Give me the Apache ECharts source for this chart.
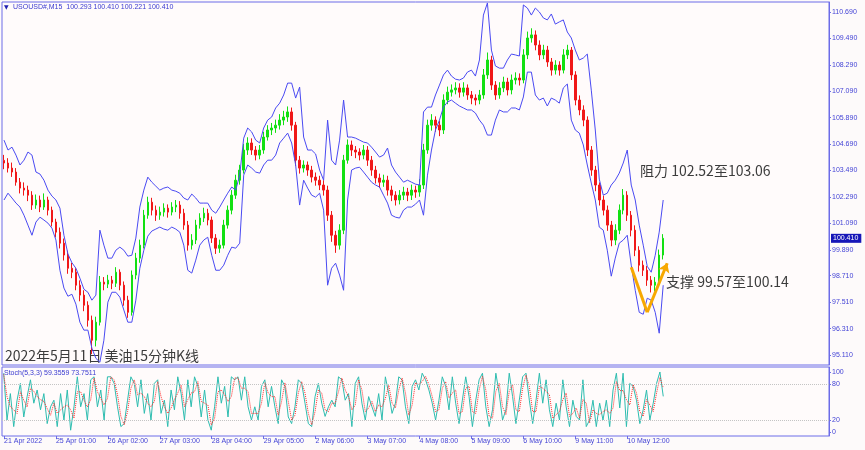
<!DOCTYPE html>
<html><head><meta charset="utf-8">
<script src="https://cdn.jsdelivr.net/npm/echarts@6/dist/echarts.min.js"></script>
<style>html,body{margin:0;padding:0;background:#fdfafa}#c{width:865px;height:450px}</style>
</head><body><div id="c"></div>
<script>
// [open, close, low, high] for each aggregated bar
const candles = [
[103.95,103.83,103.55,104.20],[103.83,103.60,103.40,104.05],[103.60,103.42,103.20,103.85],[103.42,102.96,102.80,103.60],[102.96,102.69,102.45,103.15],
[102.69,102.60,102.35,102.95],[102.60,102.37,102.10,102.80],[102.37,101.92,101.70,102.55],[101.92,102.15,101.75,102.40],[102.15,101.83,101.60,102.35],
[101.83,102.15,101.70,102.45],[102.15,101.69,101.45,102.30],[101.69,101.15,100.95,101.85],[101.15,100.69,100.45,101.30],[100.69,100.19,99.95,100.90],
[100.19,99.65,99.40,100.40],[99.65,99.05,98.80,99.85],[99.05,98.87,98.60,99.30],[98.87,98.28,98.05,99.05],[98.28,97.83,97.55,98.50],
[97.83,97.37,97.10,98.05],[97.37,96.69,96.40,97.55],[96.69,95.78,95.15,96.90],[95.78,96.60,95.50,96.85],[96.60,98.42,96.45,98.70],
[98.42,98.33,98.05,98.65],[98.33,98.51,98.15,98.75],[98.51,98.37,98.10,98.70],[98.37,98.87,98.20,99.10],[98.87,98.28,98.05,99.00],
[98.28,97.60,97.35,98.45],[97.60,97.05,96.80,97.80],[97.05,98.74,96.90,98.95],[98.74,99.51,98.55,99.75],[99.51,100.10,99.30,100.35],
[100.10,101.46,99.95,101.70],[101.46,102.05,101.30,102.30],[102.05,101.69,101.45,102.25],[101.69,101.46,101.20,101.90],[101.46,101.60,101.25,101.85],
[101.60,101.78,101.40,102.00],[101.78,101.60,101.35,101.95],[101.60,101.83,101.45,102.05],[101.83,101.92,101.60,102.15],[101.92,101.55,101.30,102.10],
[101.55,101.01,100.80,101.75],[101.01,100.10,99.85,101.20],[100.10,100.33,99.90,100.60],[100.33,101.01,100.15,101.25],[101.01,101.33,100.85,101.55],
[101.33,101.55,101.15,101.80],[101.55,101.24,101.00,101.75],[101.24,100.42,100.20,101.40],[100.42,99.96,99.70,100.60],[99.96,100.10,99.75,100.35],
[100.10,101.01,99.95,101.25],[101.01,101.69,100.85,101.90],[101.69,102.37,101.50,102.60],[102.37,103.05,102.20,103.30],[103.05,103.51,102.85,103.75],
[103.51,104.42,103.35,104.70],[104.42,104.74,104.20,105.00],[104.74,104.42,104.20,104.95],[104.42,104.19,103.95,104.60],[104.19,104.42,104.00,104.65],
[104.42,105.01,104.25,105.25],[105.01,105.33,104.85,105.55],[105.33,105.42,105.10,105.65],[105.42,105.55,105.20,105.80],[105.55,105.78,105.35,106.05],
[105.78,105.92,105.55,106.20],[105.92,106.15,105.70,106.40],[106.15,105.55,105.30,106.35],[105.55,103.96,103.70,105.70],[103.96,103.60,103.35,104.15],
[103.60,103.74,103.40,103.95],[103.74,103.51,103.25,103.90],[103.51,103.19,102.95,103.70],[103.19,103.05,102.80,103.40],[103.05,102.83,102.60,103.25],
[102.83,102.60,102.35,103.05],[102.60,101.46,101.20,102.80],[101.46,100.55,100.25,101.65],[100.55,100.10,99.75,100.75],[100.10,100.78,99.90,101.05],
[100.78,103.96,100.60,104.20],[103.96,104.65,103.80,104.90],[104.65,104.42,104.15,104.85],[104.42,104.33,104.05,104.60],[104.33,104.19,103.95,104.50],
[104.19,104.42,104.00,104.65],[104.42,103.96,103.70,104.60],[103.96,103.51,103.25,104.15],[103.51,103.15,102.90,103.70],[103.15,102.96,102.70,103.35],
[102.96,103.05,102.75,103.30],[103.05,102.60,102.35,103.25],[102.60,102.37,102.10,102.80],[102.37,102.15,101.90,102.55],[102.15,102.37,101.95,102.60],
[102.37,102.51,102.15,102.75],[102.51,102.37,102.10,102.70],[102.37,102.60,102.15,102.85],[102.60,102.51,102.25,102.80],[102.51,102.83,102.30,103.10],
[102.83,104.42,102.65,104.70],[104.42,105.55,104.25,105.80],[105.55,105.78,105.30,106.05],[105.78,105.55,105.25,105.95],[105.55,105.33,105.05,105.75],
[105.33,106.69,105.15,106.95],[106.69,107.05,106.50,107.30],[107.05,107.15,106.85,107.40],[107.15,107.24,106.95,107.50],[107.24,107.05,106.80,107.45],
[107.05,107.24,106.85,107.50],[107.24,106.92,106.70,107.40],[106.92,106.78,106.50,107.10],[106.78,106.69,106.45,106.95],[106.69,106.92,106.50,107.15],
[106.92,107.83,106.75,108.10],[107.83,108.51,107.65,108.85],[108.51,107.37,107.15,108.70],[107.37,106.92,106.70,107.55],[106.92,107.24,106.75,107.50],
[107.24,107.51,107.05,107.75],[107.51,107.15,106.90,107.70],[107.15,107.60,106.95,107.85],[107.60,107.69,107.40,107.95],[107.69,107.60,107.35,107.90],
[107.60,108.74,107.45,109.00],[108.74,109.51,108.55,109.80],[109.51,109.65,109.30,109.95],[109.65,109.19,108.95,109.85],[109.19,108.74,108.50,109.40],
[108.74,108.96,108.55,109.20],[108.96,108.42,108.20,109.15],[108.42,108.05,107.80,108.60],[108.05,108.28,107.85,108.50],[108.28,108.05,107.80,108.45],
[108.05,108.74,107.90,109.00],[108.74,108.96,108.55,109.20],[108.96,107.83,107.60,109.10],[107.83,106.69,106.45,108.00],[106.69,106.24,106.00,106.90],
[106.24,105.78,105.50,106.45],[105.78,104.42,104.15,105.95],[104.42,103.51,103.25,104.60],[103.51,102.83,102.55,103.70],[102.83,102.15,101.90,102.95],
[102.15,101.69,101.45,102.35],[101.69,101.01,100.75,101.90],[101.01,100.33,100.05,101.20],[100.33,100.78,100.10,101.05],[100.78,101.69,100.60,101.95],
[101.69,102.37,101.50,102.65],[102.37,101.46,101.20,102.55],[101.46,100.78,100.50,101.65],[100.78,99.87,99.60,101.00],[99.87,99.19,98.90,100.05],
[99.19,98.96,98.70,99.40],[98.96,98.51,98.25,99.15],[98.51,98.28,97.95,98.70],[98.28,98.42,98.00,98.65],[98.42,99.65,98.25,99.90],
[99.65,100.41,99.45,100.60]
];
const upperBand = [
104.87,104.42,104.55,104.19,103.74,103.96,104.33,104.19,103.42,103.33,
103.05,102.60,102.33,102.15,101.78,100.55,99.70,99.30,99.05,98.60,
98.10,97.96,97.60,97.83,100.78,100.10,99.51,99.51,99.87,100.01,
99.87,99.60,99.64,100.42,101.83,102.60,103.19,102.96,102.78,102.60,
102.69,102.74,102.60,102.55,102.46,102.24,102.15,102.42,102.24,102.01,
102.01,102.01,101.69,101.55,101.83,102.15,102.46,102.74,102.60,103.28,
104.96,105.42,105.24,104.87,104.74,105.42,105.78,105.92,106.33,106.55,
106.92,107.46,107.46,106.78,107.28,105.01,104.42,104.42,104.24,103.51,
103.05,105.78,103.96,103.74,104.87,106.69,105.01,105.01,104.96,104.87,
104.78,104.74,104.55,104.33,104.10,104.19,104.51,103.74,103.42,103.19,
102.96,103.05,102.96,102.87,102.83,106.15,106.37,106.37,106.92,107.37,
107.83,108.05,107.78,107.64,107.60,107.69,107.96,108.05,107.78,108.51,
110.55,111.10,108.96,108.24,108.14,108.14,108.51,108.78,108.74,108.69,
111.01,110.87,110.55,110.87,110.69,110.42,110.33,110.60,110.14,110.24,
110.33,109.78,109.51,108.96,108.51,108.60,108.78,107.14,105.33,103.10,
102.37,102.46,102.83,103.05,103.37,103.83,104.42,102.83,102.15,101.01,
100.10,99.14,98.87,99.64,100.69,102.15
];
const lowerBand = [
102.15,102.46,102.24,102.01,101.83,101.46,101.01,100.55,101.15,101.37,
101.24,101.10,100.87,100.33,98.96,98.15,97.78,97.87,97.42,96.60,
96.24,96.24,95.42,94.96,94.78,95.78,97.51,97.96,97.96,97.74,
97.15,96.60,96.60,97.60,99.05,99.87,100.51,100.74,100.83,100.92,
100.83,100.78,100.92,100.83,100.69,100.10,98.96,98.83,99.42,100.10,
100.33,100.46,99.64,98.96,98.96,99.19,99.64,100.01,99.96,100.19,
103.28,103.74,103.60,103.42,103.37,103.74,103.96,103.96,104.19,104.74,
104.96,105.19,104.74,103.74,101.92,103.05,102.69,102.37,102.28,102.46,
101.69,98.28,99.05,99.28,98.74,98.05,102.15,103.51,103.60,103.64,
103.42,103.19,102.96,102.83,102.74,102.37,102.01,101.46,101.37,101.33,
101.69,101.83,101.83,101.96,102.15,101.46,103.28,104.42,105.33,105.78,
106.37,106.60,106.69,106.55,106.42,106.33,106.24,106.24,106.10,105.78,
105.55,105.10,105.10,105.78,106.24,106.15,106.15,106.33,106.33,106.24,
106.83,107.96,107.96,106.92,106.69,106.78,106.42,106.78,106.69,106.55,
107.24,107.42,105.78,105.33,105.19,104.65,103.74,102.92,102.15,100.92,
100.78,99.87,98.69,99.51,100.19,100.33,100.55,99.19,98.05,97.05,
96.96,97.69,97.60,97.05,96.10,98.28
];
const stochK = [
98,20,64,9,53,81,25,59,87,48,70,37,64,14,42,53,9,64,20,70,3,42,92,42,64,20,87,92,42,70,20,92,92,81,42,9,14,53,92,81,42,87,31,64,20,81,87,31,53,9,70,37,92,64,20,87,42,92,76,25,70,20,3,42,92,48,76,25,92,87,92,53,92,42,20,42,20,76,87,42,76,42,14,87,76,25,14,42,
87,81,48,14,9,59,81,48,26,42,53,42,92,87,53,64,9,81,92,48,20,59,42,26,64,20,92,64,31,48,92,87,42,14,76,87,70,98,87,70,48,20,53,92,76,37,92,48,14,53,92,59,9,53,87,98,42,9,37,98,64,20,37,98,59,14,53,92,98,53,14,53,98,48,87,37,9,48,20,87,42,9,53,26,20,87,9,20,53,9,
48,20,53,9,70,98,40,98,9,81,76,53,14,37,70,20,48,81,100,59.36
];
const stochD = [
96,59,42,37,31,67,53,42,73,68,59,54,51,39,28,48,31,37,42,45,37,23,67,67,53,42,54,90,67,56,45,56,92,87,62,26,12,34,73,87,62,65,59,48,42,51,84,59,42,31,40,54,65,78,42,54,65,67,84,51,48,45,12,23,67,70,62,51,59,90,90,73,73,67,31,31,31,48,82,65,59,59,28,51,82,51,20,28,
65,84,65,31,12,34,70,65,37,34,48,48,67,90,70,59,37,45,87,70,34,40,51,34,45,42,56,78,48,40,70,90,65,28,45,82,79,84,93,79,59,34,37,73,84,57,65,70,31,34,73,76,34,31,70,93,70,26,23,68,81,42,29,68,79,37,34,73,95,76,34,34,76,73,68,62,23,29,34,54,65,26,31,40,23,54,48,15,37,31,
29,34,37,31,40,84,69,69,54,45,79,65,34,26,54,45,34,65,91,73.75
];
const priceTicks = [95.11,96.31,97.51,98.71,99.89,101.09,102.29,103.49,104.69,105.89,107.09,108.29,109.49,110.69];
const stochTicks = [0,20,80,100];
const stochLevels = [20,80];
const dateLabels = ['21 Apr 2022','25 Apr 01:00','26 Apr 02:00','27 Apr 03:00','28 Apr 04:00','29 Apr 05:00','2 May 06:00','3 May 07:00','4 May 08:00','5 May 09:00','6 May 10:00','9 May 11:00','10 May 12:00'];
const lastPrice = 100.41;
const vShapeIdx = [157,161,166];
const vShapePrice = [99.10,97.05,99.28];
const headerText = 'USOUSD#,M15  100.293 100.410 100.221 100.410';
const stochText = 'Stoch(5,3,3) 59.3559 73.7511';

const barSlots = 207, stochSlots = 247, labelEvery = 13;
const isLabelSlot = (i) => i % labelEvery === 0 && (i / labelEvery) < dateLabels.length;
const slotCats = Array.from({length: barSlots}, (_, i) => isLabelSlot(i) ? dateLabels[i / labelEvery] : '');
const stochCats = Array.from({length: stochSlots}, (_, i) => String(i));

const blue = '#4444d6', frame = '#6c6ce8', font = 'Liberation Sans';
const chart = echarts.init(document.getElementById('c'), null, {renderer: 'canvas'});
chart.setOption({
  animation: false,
  backgroundColor: '#fdfafa',
  grid: [
    {left: 2, right: 36, top: 2, bottom: 85, show: true, borderColor: frame, borderWidth: 1, backgroundColor: '#fffbfb'},
    {left: 2, right: 36, top: 367, bottom: 14, show: true, borderColor: frame, borderWidth: 1, backgroundColor: '#fffbfb'}
  ],
  xAxis: [
    {type: 'category', gridIndex: 0, data: slotCats.map((_, i) => String(i)), boundaryGap: true, show: false},
    {type: 'category', gridIndex: 1, data: stochCats, boundaryGap: true, show: false, position: 'top'},
    {type: 'category', gridIndex: 1, data: slotCats, boundaryGap: true, position: 'bottom',
      axisLine: {show: false},
      axisTick: {show: true, length: 3, alignWithLabel: true, interval: (i) => isLabelSlot(i), lineStyle: {color: frame}},
      axisLabel: {interval: (i) => isLabelSlot(i), align: 'left', margin: 2, color: blue, fontSize: 7, fontFamily: font},
      splitLine: {show: false}}
  ],
  yAxis: [
    {type: 'value', gridIndex: 0, position: 'right', min: 94.656, max: 111.144, scale: true,
      axisLine: {show: true, lineStyle: {color: frame}},
      axisTick: {show: true, length: 2, customValues: priceTicks, lineStyle: {color: frame}},
      axisLabel: {customValues: priceTicks, formatter: (v) => v.toFixed(3), color: blue, fontSize: 7, fontFamily: font, margin: 3},
      splitLine: {show: false}},
    {type: 'value', gridIndex: 1, position: 'right', min: -6.667, max: 108.333,
      axisLine: {show: true, lineStyle: {color: frame}},
      axisTick: {show: true, length: 2, customValues: stochTicks, lineStyle: {color: frame}},
      axisLabel: {customValues: stochTicks, color: blue, fontSize: 7, fontFamily: font, margin: 3},
      splitLine: {show: false}}
  ],
  series: [
    {type: 'candlestick', xAxisIndex: 0, yAxisIndex: 0, data: candles, barWidth: 2, z: 2,
      itemStyle: {color: '#12e012', color0: '#f01818', borderColor: '#12e012', borderColor0: '#f01818', borderWidth: 1}},
    {type: 'line', xAxisIndex: 0, yAxisIndex: 0, data: upperBand, symbol: 'none', z: 3,
      lineStyle: {color: '#4a4af2', width: 1}},
    {type: 'line', xAxisIndex: 0, yAxisIndex: 0, data: lowerBand, symbol: 'none', z: 3,
      lineStyle: {color: '#4a4af2', width: 1}},
    {type: 'line', xAxisIndex: 0, yAxisIndex: 0, data: [], symbol: 'none', z: 6,
      markLine: {silent: true, symbol: ['none', 'none'], data: [{yAxis: lastPrice}],
        lineStyle: {color: 'rgba(0,0,0,0)', width: 0},
        label: {show: true, position: 'end', distance: 2, formatter: () => lastPrice.toFixed(3), color: '#ffffff',
          backgroundColor: '#1616b8', padding: [1, 3, 1, 2], fontSize: 7, fontFamily: font}}},
    {type: 'line', xAxisIndex: 0, yAxisIndex: 0, data: [], symbol: 'none', z: 5,
      markLine: {silent: true, symbol: ['none', 'none'], lineStyle: {color: '#f7a800', width: 3, type: 'solid'}, label: {show: false},
        data: [
          [{coord: [vShapeIdx[0], vShapePrice[0]]}, {coord: [vShapeIdx[1], vShapePrice[1]]}],
          [{coord: [vShapeIdx[1], vShapePrice[1]]}, {coord: [vShapeIdx[2], vShapePrice[2]], symbol: 'arrow', symbolSize: 9}]
        ]}},
    {type: 'line', xAxisIndex: 1, yAxisIndex: 1, data: stochK, symbol: 'none', z: 3,
      lineStyle: {color: '#2ebdb0', width: 1},
      markLine: {silent: true, symbol: ['none', 'none'], label: {show: false},
        lineStyle: {color: '#c4c4c4', type: 'dotted', width: 1},
        data: stochLevels.map(v => ({yAxis: v}))}},
    {type: 'line', xAxisIndex: 1, yAxisIndex: 1, data: stochD, symbol: 'none', z: 4,
      lineStyle: {color: '#ff2a2a', width: 1, type: 'dotted'}}
  ],
  graphic: [
    {type: 'text', x: 4, y: 7, style: {text: '▼', fill: '#2020b0', font: '6px "DejaVu Sans"', verticalAlign: 'middle'}},
    {type: 'text', x: 13, y: 7, style: {text: headerText, fill: '#3a3ad0', font: '7px "Liberation Sans"', verticalAlign: 'middle'}},
    {type: 'text', x: 4, y: 373, style: {text: stochText, fill: '#3a3ad0', font: '7px "Liberation Sans"', verticalAlign: 'middle'}},
    {type: 'text', x: 640, y: 171, style: {text: '阻力 102.52至103.06', fill: '#3c3c3c', font: '14px "Noto Sans CJK SC"', verticalAlign: 'middle'}},
    {type: 'text', x: 666, y: 282, style: {text: '支撑 99.57至100.14', fill: '#3c3c3c', font: '14px "Noto Sans CJK SC"', verticalAlign: 'middle'}},
    {type: 'text', x: 5, y: 356, style: {text: '2022年5月11日 美油15分钟K线', fill: '#3c3c3c', font: '14px "Noto Sans CJK SC"', verticalAlign: 'middle'}}
  ]
});
</script></body></html>
